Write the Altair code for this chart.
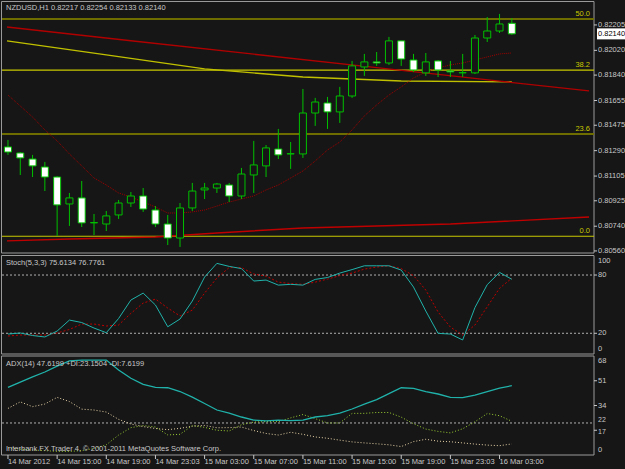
import altair as alt
import pandas as pd

BG = "#161616"
FONT = "Liberation Sans"
TXT = "#c8c8c8"
GREEN = "#00c000"

# ---------------- data ----------------
idx = list(range(1, 43))
opens = [0.81317, 0.81273, 0.81229, 0.81171, 0.81098, 0.80902, 0.80946, 0.80764, 0.80756, 0.80822,
         0.80909, 0.80960, 0.80858, 0.80756, 0.80654, 0.80873, 0.81004, 0.81018, 0.81040, 0.80960,
         0.81113, 0.81179, 0.81302, 0.81266, 0.81266, 0.81564, 0.81637, 0.81572, 0.81688, 0.81899,
         0.81936, 0.81928, 0.82089, 0.81950, 0.81856, 0.81943, 0.81870, 0.81856, 0.81856, 0.82110,
         0.82161, 0.82217]
highs = [0.81368, 0.81280, 0.81259, 0.81208, 0.81105, 0.80982, 0.81069, 0.80829, 0.80851, 0.80931,
         0.80989, 0.81018, 0.80887, 0.80822, 0.80909, 0.81055, 0.81055, 0.81055, 0.81055, 0.81164,
         0.81361, 0.81331, 0.81448, 0.81353, 0.81739, 0.81674, 0.81681, 0.81754, 0.81943, 0.81994,
         0.82008, 0.82118, 0.82089, 0.81994, 0.82001, 0.81950, 0.81943, 0.81994, 0.82132, 0.82263,
         0.82285, 0.82254]
lows = [0.81259, 0.81113, 0.81098, 0.80996, 0.80669, 0.80742, 0.80734, 0.80676, 0.80705, 0.80793,
        0.80880, 0.80844, 0.80734, 0.80603, 0.80589, 0.80851, 0.80938, 0.80982, 0.80916, 0.80938,
        0.80982, 0.81098, 0.81229, 0.81157, 0.81237, 0.81470, 0.81448, 0.81492, 0.81674, 0.81834,
        0.81907, 0.81914, 0.81907, 0.81863, 0.81834, 0.81826, 0.81826, 0.81826, 0.81848, 0.82081,
        0.82147, 0.82133]
closes = [0.81280, 0.81237, 0.81179, 0.81098, 0.80895, 0.80946, 0.80764, 0.80767, 0.80815, 0.80909,
          0.80960, 0.80865, 0.80756, 0.80654, 0.80873, 0.80996, 0.81018, 0.81047, 0.80960, 0.81120,
          0.81186, 0.81310, 0.81259, 0.81268, 0.81564, 0.81644, 0.81572, 0.81688, 0.81907, 0.81936,
          0.81928, 0.82089, 0.81957, 0.81877, 0.81936, 0.81877, 0.81863, 0.81858, 0.82110, 0.82161,
          0.82212, 0.82140]

ma_fast = [0.81695, 0.81615, 0.81535, 0.81441, 0.81361, 0.81266, 0.81179, 0.81091, 0.81040, 0.80982,
           0.80953, 0.80916, 0.80880, 0.80836, 0.80836, 0.80844, 0.80858, 0.80887, 0.80916, 0.80938,
           0.80960, 0.81004, 0.81040, 0.81091, 0.81142, 0.81215, 0.81295, 0.81353, 0.81441, 0.81543,
           0.81623, 0.81695, 0.81754, 0.81819, 0.81863, 0.81892, 0.81914, 0.81928, 0.81950, 0.81972,
           0.81994, 0.82001]
ma_red_idx = [0.92, 11, 21, 31, 41, 48.28]
ma_red = [0.82190, 0.82090, 0.81992, 0.81894, 0.81796, 0.81725]
ma_yel_idx = [0.92, 9, 17, 25, 33, 42]
ma_yel = [0.82089, 0.81987, 0.81885, 0.81826, 0.81797, 0.81790]
ma_low_idx = [0.92, 6, 13, 18, 25, 37, 48.28]
ma_low = [0.80633, 0.80647, 0.80662, 0.80691, 0.80727, 0.80756, 0.80807]

fibo_levels = ["0.0", "23.6", "38.2", "50.0"]
fibo_prices = [0.80667, 0.81412, 0.81876, 0.82249]
fibo_bright = [True, False, True, False]

price_ticks = [0.82205, 0.82020, 0.81840, 0.81655, 0.81475, 0.81290, 0.81105, 0.80925, 0.80740, 0.80560]

stoch_main = [19.2, 20.3, 17.7, 16.2, 22.3, 33.6, 31.1, 25.4, 20.6, 35.2,
              54.2, 61.4, 49.1, 26.7, 34.7, 53.2, 77.9, 92.0, 88.9, 86.6,
              73.8, 74.8, 69.6, 70.4, 69.6, 75.5, 77.4, 82.0, 85.6, 89.5,
              89.5, 89.5, 85.1, 67.6, 42.9, 19.9, 19.2, 13.1, 46.5, 70.1,
              82.7, 75.6]
stoch_signal = [17.2, 18.2, 18.2, 18.2, 20.3, 23.9, 29.5, 29.5, 27.5, 28.5,
                40.5, 51.1, 55.2, 46.0, 37.8, 43.9, 61.4, 76.9, 87.7, 87.7,
                81.0, 78.9, 72.7, 71.2, 70.4, 72.7, 75.8, 79.4, 82.0, 86.1,
                88.2, 89.5, 86.6, 79.4, 64.5, 41.9, 26.4, 18.2, 28.5, 47.3,
                66.3, 76.8]
stoch_levels = [80, 20]

adx = [46.4, 50.1, 53.6, 57.0, 61.1, 64.6, 65.2, 65.2, 65.2, 58.4,
       52.7, 48.5, 46.5, 46.2, 43.6, 39.8, 35.4, 30.9, 28.8, 26.1,
       24.0, 23.4, 24.0, 23.6, 24.0, 26.1, 27.1, 28.8, 31.6, 35.0,
       38.1, 42.2, 46.2, 45.8, 43.6, 41.9, 39.6, 39.4, 41.2, 43.6,
       46.0, 47.6]
plus_di = [5, 4, 3.5, 3, 2.5, 2.5, 3, 4.5, 7, 13.7,
           18.8, 20.2, 19.2, 13.8, 14.2, 20.2, 19, 17, 16.5, 20.8,
           22.6, 22.9, 22.9, 25.5, 27.8, 25, 22, 22, 28.6, 28.6,
           29.2, 29.2, 26, 21.5, 17.8, 16.2, 15.2, 18.0, 22.8, 28.5,
           27, 23.15]
minus_di = [32, 36.5, 33.2, 35, 39.6, 36.7, 31.5, 30.9, 29.5, 24.5,
            21.3, 19.5, 18.2, 17.4, 18.3, 19.8, 20.3, 18.7, 18.8, 19.2,
            16.8, 14.8, 13.7, 15.6, 14.2, 12.4, 11.5, 10.2, 9.0, 8.3,
            7.7, 7.0, 5.8, 9.2, 10.8, 9.5, 9.1, 8.3, 7.5, 6.8,
            6.4, 7.6]
adx_level = [22]
adx_ticks = [68, 51, 34, 22, 17, 0]

time_idx = [1, 5, 9, 13, 17, 21, 25, 29, 33, 37, 41]
time_labels = ["14 Mar 2012", "14 Mar 15:00", "14 Mar 19:00", "14 Mar 23:03", "15 Mar 03:00",
               "15 Mar 07:00", "15 Mar 11:00", "15 Mar 15:00", "15 Mar 19:00", "15 Mar 23:03",
               "16 Mar 03:00"]

# ---------------- scales ----------------
X_DOM, X_RANGE = [0.92, 48.28], [2, 594]
P_DOM, P_RANGE = [0.80545, 0.82372], [253, 2]
S_DOM, S_RANGE = [0, 100], [352.7, 255.6]
A_DOM, A_RANGE = [0, 68], [455, 356]


def sc(dom, rng):
    return alt.Scale(domain=dom, range=rng, nice=False, zero=False)


def X(field="idx"):
    return alt.X(f"{field}:Q", scale=sc(X_DOM, X_RANGE), axis=None)


def Y(field, dom, rng):
    return alt.Y(f"{field}:Q", scale=sc(dom, rng), axis=None)


def Y2(field):
    return alt.Y2(f"{field}:Q")


candles = pd.DataFrame({"idx": idx, "open": opens, "high": highs, "low": lows, "close": closes})
one = pd.DataFrame({"a": [0]})
layers = []

# panel frames
for y1, y2 in [(1.5, 253), (255.5, 354), (356, 455)]:
    layers.append(alt.Chart(one).mark_rect(fill=BG, stroke="#9a9a9a", strokeWidth=1).encode(
        x=alt.value(1.5), x2=alt.value(594), y=alt.value(y1), y2=alt.value(y2)))

# fibonacci levels
fibo = pd.DataFrame({"lvl": fibo_levels, "price": fibo_prices, "bright": fibo_bright})
layers.append(alt.Chart(fibo).transform_filter("!datum.bright").mark_rule(
    color="#6e6e00", strokeWidth=2).encode(x=alt.value(2), x2=alt.value(594), y=Y("price", P_DOM, P_RANGE)))
layers.append(alt.Chart(fibo).transform_filter("datum.bright").mark_rule(
    color="#c8c800", strokeWidth=1.2).encode(x=alt.value(2), x2=alt.value(594), y=Y("price", P_DOM, P_RANGE)))
layers.append(alt.Chart(fibo).mark_text(
    align="right", baseline="bottom", dy=-1, font=FONT, fontSize=7.5, color="#c8c800").encode(
    x=alt.value(590), y=Y("price", P_DOM, P_RANGE), text="lvl:N"))

# moving averages
def line_df(xs, ys):
    return pd.DataFrame({"idx": xs, "v": ys})

layers.append(alt.Chart(line_df(ma_yel_idx, ma_yel)).mark_line(color="#c0c000", strokeWidth=1.3).encode(
    x=X(), y=Y("v", P_DOM, P_RANGE)))
layers.append(alt.Chart(line_df(ma_red_idx, ma_red)).mark_line(color="#b00000", strokeWidth=1.3).encode(
    x=X(), y=Y("v", P_DOM, P_RANGE)))
layers.append(alt.Chart(line_df(ma_low_idx, ma_low)).mark_line(color="#c00000", strokeWidth=1.4).encode(
    x=X(), y=Y("v", P_DOM, P_RANGE)))
layers.append(alt.Chart(line_df(idx, ma_fast)).mark_line(color="#a00000", strokeWidth=1, strokeDash=[1, 1]).encode(
    x=X(), y=Y("v", P_DOM, P_RANGE)))

# candles
layers.append(alt.Chart(candles).mark_rule(color=GREEN, strokeWidth=1).encode(
    x=X(), y=Y("low", P_DOM, P_RANGE), y2=Y2("high")))
layers.append(alt.Chart(candles).mark_bar(size=7, stroke=GREEN, strokeWidth=1).encode(
    x=X(), y=Y("open", P_DOM, P_RANGE), y2=Y2("close"),
    fill=alt.condition("datum.close >= datum.open", alt.value(BG), alt.value("#ffffff"))))

# price axis
pt = pd.DataFrame({"p": price_ticks, "lab": [f"{p:.5f}" for p in price_ticks]})
layers.append(alt.Chart(pt).mark_rule(color="#c8c8c8").encode(
    x=alt.value(594), x2=alt.value(597), y=Y("p", P_DOM, P_RANGE)))
layers.append(alt.Chart(pt).mark_text(align="left", baseline="middle", font=FONT, fontSize=7.5, color=TXT).encode(
    x=alt.value(598), y=Y("p", P_DOM, P_RANGE), text="lab:N"))
last = candles.tail(1).assign(lab=lambda d: d["close"].map(lambda v: f"{v:.5f}"))
layers.append(alt.Chart(last).mark_rect(color="#ffffff", yOffset=-5.5, y2Offset=5.5).encode(
    x=alt.value(597), x2=alt.value(625), y=Y("close", P_DOM, P_RANGE), y2=Y2("close")))
layers.append(alt.Chart(last).mark_text(align="left", baseline="middle", font=FONT, fontSize=7.5, color="#000000").encode(
    x=alt.value(598), y=Y("close", P_DOM, P_RANGE), text="lab:N"))

# stochastic
sl = pd.DataFrame({"v": stoch_levels})
layers.append(alt.Chart(sl).mark_rule(color="#b0b0b0", strokeDash=[2, 2], strokeWidth=1).encode(
    x=alt.value(2), x2=alt.value(594), y=Y("v", S_DOM, S_RANGE)))
layers.append(alt.Chart(line_df(idx, stoch_signal)).mark_line(color="#c00000", strokeWidth=1, strokeDash=[2, 2]).encode(
    x=X(), y=Y("v", S_DOM, S_RANGE)))
layers.append(alt.Chart(line_df(idx, stoch_main)).mark_line(color="#20b2aa", strokeWidth=1).encode(
    x=X(), y=Y("v", S_DOM, S_RANGE)))
st_lab = pd.DataFrame({"v": [100, 80, 20, 0], "lab": ["100", "80", "20", "0"]})
layers.append(alt.Chart(st_lab).transform_filter("datum.v == 100").mark_text(
    align="left", baseline="top", dy=1, font=FONT, fontSize=7.5, color=TXT).encode(
    x=alt.value(598), y=Y("v", S_DOM, S_RANGE), text="lab:N"))
layers.append(alt.Chart(st_lab).transform_filter("datum.v == 80 || datum.v == 20").mark_text(
    align="left", baseline="middle", font=FONT, fontSize=7.5, color=TXT).encode(
    x=alt.value(598), y=Y("v", S_DOM, S_RANGE), text="lab:N"))
layers.append(alt.Chart(st_lab).transform_filter("datum.v == 0").mark_text(
    align="left", baseline="bottom", dy=0, font=FONT, fontSize=7.5, color=TXT).encode(
    x=alt.value(598), y=Y("v", S_DOM, S_RANGE), text="lab:N"))
layers.append(alt.Chart(st_lab).transform_filter("datum.v == 80 || datum.v == 20").mark_rule(color="#c8c8c8").encode(
    x=alt.value(594), x2=alt.value(597), y=Y("v", S_DOM, S_RANGE)))

# ADX
layers.append(alt.Chart(pd.DataFrame({"v": adx_level})).mark_rule(color="#b0b0b0", strokeDash=[2, 2]).encode(
    x=alt.value(2), x2=alt.value(594), y=Y("v", A_DOM, A_RANGE)))
layers.append(alt.Chart(line_df(idx, minus_di)).mark_line(color="#e8d4a8", strokeWidth=1, strokeDash=[1, 2]).encode(
    x=X(), y=Y("v", A_DOM, A_RANGE)))
layers.append(alt.Chart(line_df(idx, plus_di)).mark_line(color="#9acd32", strokeWidth=1, strokeDash=[1, 2]).encode(
    x=X(), y=Y("v", A_DOM, A_RANGE)))
layers.append(alt.Chart(line_df(idx, adx)).mark_line(color="#20b2aa", strokeWidth=1.3).encode(
    x=X(), y=Y("v", A_DOM, A_RANGE)))
at = pd.DataFrame({"v": adx_ticks, "lab": [str(t) for t in adx_ticks]})
layers.append(alt.Chart(at).transform_filter("datum.v == 68").mark_text(
    align="left", baseline="top", dy=1, font=FONT, fontSize=7.5, color=TXT).encode(
    x=alt.value(598), y=Y("v", A_DOM, A_RANGE), text="lab:N"))
layers.append(alt.Chart(at).transform_filter("datum.v == 51 || datum.v == 34").mark_text(
    align="left", baseline="middle", font=FONT, fontSize=7.5, color=TXT).encode(
    x=alt.value(598), y=Y("v", A_DOM, A_RANGE), text="lab:N"))
layers.append(alt.Chart(at).transform_filter("datum.v == 22").mark_text(
    align="left", baseline="middle", dy=-2.5, font=FONT, fontSize=7, color=TXT).encode(
    x=alt.value(598), y=Y("v", A_DOM, A_RANGE), text="lab:N"))
layers.append(alt.Chart(at).transform_filter("datum.v == 17").mark_text(
    align="left", baseline="middle", dy=1.5, font=FONT, fontSize=7, color=TXT).encode(
    x=alt.value(598), y=Y("v", A_DOM, A_RANGE), text="lab:N"))
layers.append(alt.Chart(at).transform_filter("datum.v == 0").mark_text(
    align="left", baseline="bottom", dy=-1, font=FONT, fontSize=7.5, color=TXT).encode(
    x=alt.value(598), y=Y("v", A_DOM, A_RANGE), text="lab:N"))
layers.append(alt.Chart(at).transform_filter("datum.v > 0 && datum.v < 68 && datum.v != 22").mark_rule(color="#c8c8c8").encode(
    x=alt.value(594), x2=alt.value(597), y=Y("v", A_DOM, A_RANGE)))

# time axis
tdf = pd.DataFrame({"idx": time_idx, "lab": time_labels})
layers.append(alt.Chart(tdf).mark_rule(color="#c8c8c8").encode(
    x=X(), y=alt.value(455), y2=alt.value(459)))
layers.append(alt.Chart(tdf).mark_text(align="left", baseline="middle", dx=0, font=FONT, fontSize=7.5, color=TXT).encode(
    x=X(), y=alt.value(462), text="lab:N"))

# titles
for ty, txt in [(8, "NZDUSD,H1  0.82217 0.82254 0.82133 0.82140"),
                (263, "Stoch(5,3,3) 75.6134 76.7761"),
                (364, "ADX(14) 47.6199 +DI:23.1504 -DI:7.6199"),
                (449, "Interbank FX Trader 4, \u00a9 2001-2011 MetaQuotes Software Corp.")]:
    layers.append(alt.Chart(one).mark_text(align="left", baseline="middle", font=FONT, fontSize=7.5, color=TXT).encode(
        x=alt.value(6), y=alt.value(ty), text=alt.value(txt)))

chart = alt.layer(*layers).resolve_scale(y="independent").properties(
    width=625, height=469, autosize=alt.AutoSizeParams(type="none"), padding=0,
    background=BG).configure_view(strokeWidth=0, fill=BG)

chart.save("out.html", embed_options={"renderer": "svg", "actions": False})
